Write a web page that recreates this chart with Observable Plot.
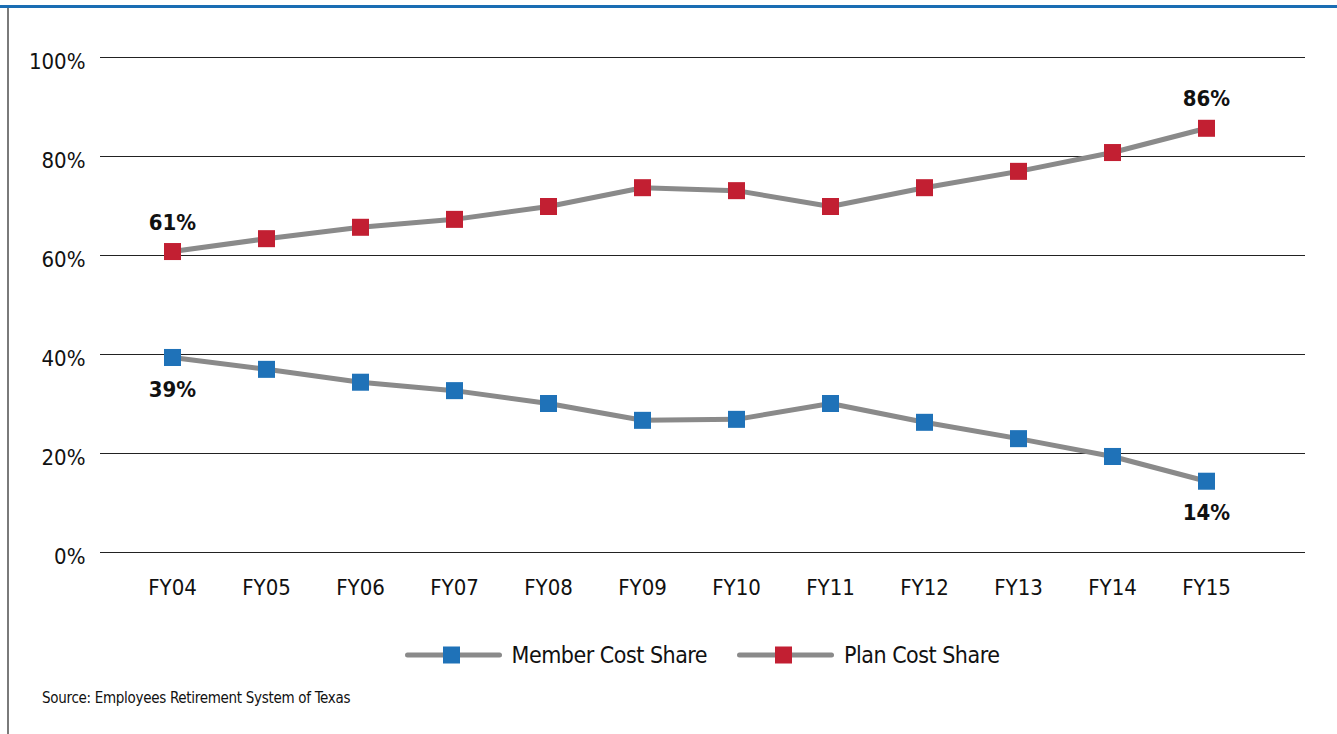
<!DOCTYPE html>
<html>
<head>
<meta charset="utf-8">
<script src="https://cdn.jsdelivr.net/npm/d3@7"></script>
<script src="https://cdn.jsdelivr.net/npm/@observablehq/plot@0.6"></script>
<style>
  html, body { margin: 0; padding: 0; background: #fff; }
  body { width: 1337px; height: 734px; position: relative; overflow: hidden;
         font-family: "DejaVu Sans Condensed", "DejaVu Sans", sans-serif; font-stretch: condensed; }
  #topbar { position: absolute; left: 0; top: 5px; width: 1337px; height: 3px; background: #1a6db3; }
  #leftbar { position: absolute; left: 7px; top: 8px; width: 2px; height: 726px; background: #7a7a7a; }
  #chart { position: absolute; left: 0; top: 0; }
  #legend { position: absolute; top: 639px; left: 0; width: 1404px; height: 32px;
            display: flex; justify-content: center; gap: 30px; }
  .item { display: flex; align-items: center; height: 32px;
          font-size: 23px; color: #111; letter-spacing: -0.5px; }
  .item svg { margin-right: 10px; }
  #source { position: absolute; left: 42px; top: 689px; font-size: 15px; color: #111; letter-spacing: -0.3px; }
</style>
</head>
<body>
<div id="topbar"></div>
<div id="leftbar"></div>
<div id="chart"></div>
<div id="legend"></div>
<div id="source">Source: Employees Retirement System of Texas</div>
<script>
const years = ["FY04","FY05","FY06","FY07","FY08","FY09","FY10","FY11","FY12","FY13","FY14","FY15"];
const memberShare = [39.4, 37.0, 34.4, 32.7, 30.1, 26.7, 26.9, 30.1, 26.3, 23.0, 19.4, 14.4];
const planShare   = [60.8, 63.4, 65.7, 67.3, 69.9, 73.7, 73.1, 69.9, 73.7, 77.0, 80.8, 85.7];
const yTicks = [0, 20, 40, 60, 80, 100];
const seriesNames = ["Member Cost Share", "Plan Cost Share"];
const seriesColors = ["#1f72b8", "#c21f32"];
const lineColor = "#8a8a8a";
const labelYears = ["FY04", "FY15"];

const member = years.map((y, i) => ({year: y, value: memberShare[i]}));
const plan = years.map((y, i) => ({year: y, value: planShare[i]}));
const planLabels = plan.filter(d => labelYears.includes(d.year));
const memberLabels = member.filter(d => labelYears.includes(d.year));
const pct = d => Math.round(d.value) + "%";

const font = '"DejaVu Sans Condensed", "DejaVu Sans", sans-serif';

const chart = Plot.plot({
  width: 1337,
  height: 615,
  marginLeft: 100,
  marginRight: 32,
  marginTop: 57,
  marginBottom: 63,
  style: {fontFamily: font, fontSize: "22px", color: "#111", background: "transparent", fontStretch: "condensed"},
  x: {type: "point", domain: years, padding: 0, insetLeft: 67, insetRight: 95},
  y: {domain: [0, 100]},
  marks: [
    Plot.ruleY(yTicks, {stroke: "#222", strokeWidth: 1.2}),
    Plot.axisY(yTicks, {tickSize: 0, tickPadding: 15, dy: 4, tickFormat: d => d + "%", fontSize: 22, label: null}),
    Plot.axisX(years, {tickSize: 0, tickPadding: 27, fontSize: 22, label: null}),
    Plot.line(member, {x: "year", y: "value", stroke: lineColor, strokeWidth: 5}),
    Plot.line(plan, {x: "year", y: "value", stroke: lineColor, strokeWidth: 5}),
    Plot.dot(member, {x: "year", y: "value", symbol: "square", r: 9.6, fill: seriesColors[0], stroke: "none"}),
    Plot.dot(plan, {x: "year", y: "value", symbol: "square", r: 9.6, fill: seriesColors[1], stroke: "none"}),
    Plot.text(planLabels, {x: "year", y: "value", text: pct, dy: -29, fontWeight: "bold", fontSize: 22, fill: "#111"}),
    Plot.text(memberLabels, {x: "year", y: "value", text: pct, dy: 32, fontWeight: "bold", fontSize: 22, fill: "#111"})
  ]
});
document.getElementById("chart").appendChild(chart);

// Legend
const legend = document.getElementById("legend");
seriesNames.forEach((name, i) => {
  const item = document.createElement("div");
  item.className = "item";
  item.innerHTML = `<svg width="97" height="20"><line x1="2.5" y1="10" x2="94.5" y2="10" stroke="${lineColor}" stroke-width="5" stroke-linecap="round"/><rect x="38" y="1.5" width="17" height="17" fill="${seriesColors[i]}"/></svg><span>${name}</span>`;
  legend.appendChild(item);
});
</script>
</body>
</html>
